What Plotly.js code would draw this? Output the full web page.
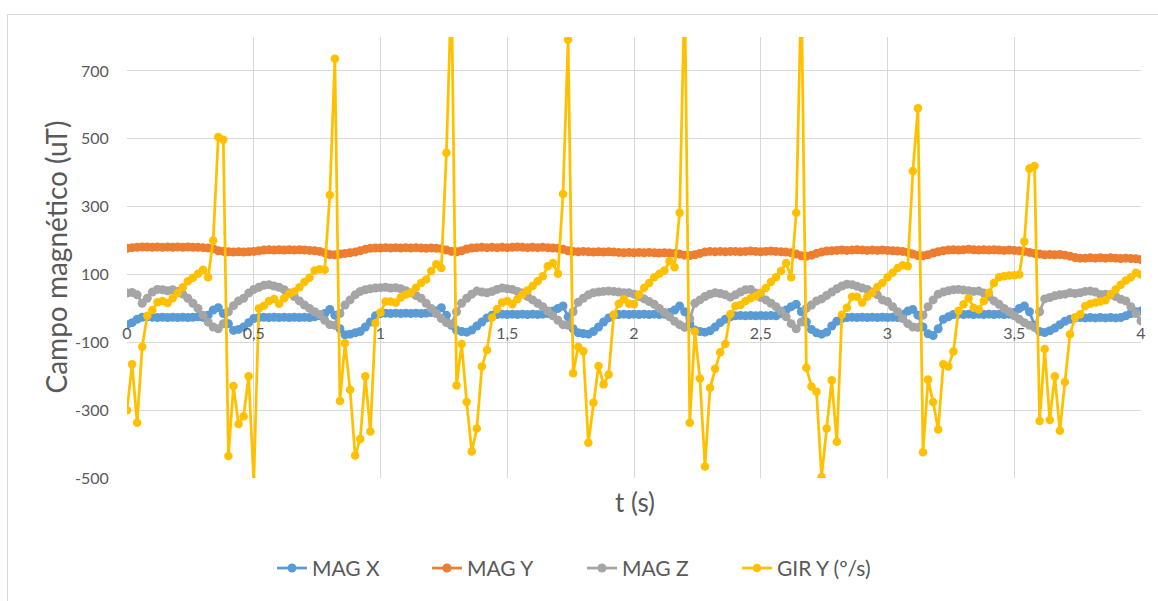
<!DOCTYPE html>
<html>
<head>
<meta charset="utf-8">
<script src="https://cdn.plot.ly/plotly-3.0.1.min.js"></script>
<style>
  html, body { margin: 0; padding: 0; background: #ffffff; overflow: hidden; }
  #frame {
    position: absolute; left: 7px; top: 14px;
    width: 1150px; height: 586px;
    border-left: 1px solid #d9d9d9; border-top: 1px solid #d9d9d9;
  }
  #chart { width: 1150px; height: 586px; }
</style>
</head>
<body>
<div id="frame"><div id="chart"></div></div>
<script>
// Sample times (s)
const t = [
  0.00,0.02,0.04,0.06,0.08,0.10,0.12,0.14,0.16,0.18,
  0.20,0.22,0.24,0.26,0.28,0.30,0.32,0.34,0.36,0.38,
  0.40,0.42,0.44,0.46,0.48,0.50,0.52,0.54,0.56,0.58,
  0.60,0.62,0.64,0.66,0.68,0.70,0.72,0.74,0.76,0.78,
  0.80,0.82,0.84,0.86,0.88,0.90,0.92,0.94,0.96,0.98,
  1.00,1.02,1.04,1.06,1.08,1.10,1.12,1.14,1.16,1.18,
  1.20,1.22,1.24,1.26,1.28,1.30,1.32,1.34,1.36,1.38,
  1.40,1.42,1.44,1.46,1.48,1.50,1.52,1.54,1.56,1.58,
  1.60,1.62,1.64,1.66,1.68,1.70,1.72,1.74,1.76,1.78,
  1.80,1.82,1.84,1.86,1.88,1.90,1.92,1.94,1.96,1.98,
  2.00,2.02,2.04,2.06,2.08,2.10,2.12,2.14,2.16,2.18,
  2.20,2.22,2.24,2.26,2.28,2.30,2.32,2.34,2.36,2.38,
  2.40,2.42,2.44,2.46,2.48,2.50,2.52,2.54,2.56,2.58,
  2.60,2.62,2.64,2.66,2.68,2.70,2.72,2.74,2.76,2.78,
  2.80,2.82,2.84,2.86,2.88,2.90,2.92,2.94,2.96,2.98,
  3.00,3.02,3.04,3.06,3.08,3.10,3.12,3.14,3.16,3.18,
  3.20,3.22,3.24,3.26,3.28,3.30,3.32,3.34,3.36,3.38,
  3.40,3.42,3.44,3.46,3.48,3.50,3.52,3.54,3.56,3.58,
  3.60,3.62,3.64,3.66,3.68,3.70,3.72,3.74,3.76,3.78,
  3.80,3.82,3.84,3.86,3.88,3.90,3.92,3.94,3.96,3.98,
  4.00
];

// Magnetometer X (uT)
const magX = [
  -48,-42,-32,-26,-25,-26,-27,-26,-27,-26,
  -27,-26,-27,-26,-25,-26,-20,-5,2,-15,
  -45,-65,-62,-55,-42,-30,-27,-26,-27,-26,
  -27,-26,-27,-26,-27,-26,-27,-25,-22,-15,
  -3,-20,-60,-78,-76,-72,-68,-55,-40,-22,
  -15,-14,-15,-14,-15,-14,-15,-14,-15,-14,
  -12,-8,2,-20,-50,-64,-68,-70,-64,-52,
  -40,-28,-20,-18,-17,-18,-17,-18,-17,-18,
  -17,-18,-17,-15,-8,0,7,-25,-60,-72,
  -74,-76,-68,-55,-40,-28,-20,-18,-17,-18,
  -17,-18,-17,-18,-17,-18,-17,-12,-5,7,
  -10,-45,-64,-68,-70,-66,-55,-42,-32,-25,
  -22,-21,-22,-21,-22,-21,-22,-21,-22,-15,
  -5,5,12,-10,-40,-62,-72,-76,-70,-52,
  -38,-30,-27,-26,-27,-26,-27,-26,-27,-26,
  -27,-26,-27,-18,-8,-3,-20,-55,-75,-80,
  -60,-32,-25,-18,-17,-18,-17,-18,-17,-18,
  -17,-18,-17,-18,-17,-12,0,7,-10,-50,
  -68,-71,-66,-58,-48,-38,-32,-28,-27,-28,
  -27,-28,-27,-28,-27,-28,-27,-22,-15,-10,
  -8
];

// Magnetometer Y (uT)
const magY = [
  177,179,180,181,181,180,181,180,181,180,
  181,180,181,180,180,179,178,176,170,168,
  167,166,167,166,167,168,170,172,173,172,
  173,172,173,172,173,172,171,170,168,164,
  159,158,160,162,164,166,170,174,177,178,
  178,179,178,179,178,179,178,179,178,177,
  178,177,176,172,168,167,170,175,178,179,
  180,179,180,179,180,179,180,181,180,179,
  180,179,180,179,178,177,174,170,168,167,
  168,167,166,167,166,167,166,165,164,165,
  164,165,164,165,164,163,164,163,162,160,
  157,156,158,162,166,168,167,168,167,168,
  168,167,168,169,168,167,168,169,168,167,
  166,164,160,155,154,157,162,166,169,170,
  171,172,171,172,173,172,171,172,171,172,
  171,170,169,168,165,160,156,155,158,163,
  167,170,172,173,172,173,174,173,172,173,
  172,173,172,171,172,171,170,168,165,162,
  160,158,159,158,159,157,154,150,148,148,
  149,148,149,148,149,148,147,148,147,146,
  144
];

// Magnetometer Z (uT)
const magZ = [
  45,47,40,15,30,48,56,55,52,55,
  50,42,30,15,0,-20,-40,-55,-60,-45,
  -10,8,22,30,45,56,62,68,70,66,
  62,55,45,35,22,10,0,-10,-18,-35,
  -48,-50,-15,10,25,40,50,55,58,60,
  61,62,60,61,58,52,45,38,30,15,
  0,-15,-30,-42,-46,-10,15,30,42,51,
  48,46,50,56,60,58,56,50,45,35,
  25,15,5,-8,-22,-35,-48,-50,-10,18,
  30,40,46,48,50,51,50,48,46,46,
  42,35,28,20,12,0,-12,-25,-38,-48,
  -56,-30,15,25,35,42,46,44,40,33,
  40,48,55,56,45,32,25,15,5,-8,
  -25,-45,-60,-40,0,10,22,28,38,48,
  58,66,71,70,65,60,56,48,40,25,
  20,5,-10,-30,-45,-55,-56,-20,5,25,
  42,48,52,55,56,54,52,50,51,45,
  35,22,12,0,-10,-22,-32,-42,-50,-56,
  -10,28,32,37,40,42,46,44,46,50,
  51,48,41,42,40,35,27,22,5,-15,
  -37
];

// Gyroscope Y (deg/s)
const girY = [
  -300,-165,-337,-113,-22,-5,18,22,16,30,
  45,62,80,90,102,114,92,200,505,497,
  -435,-229,-341,-318,-200,-510,0,8,22,28,
  14,30,43,50,62,78,90,112,115,114,
  334,736,-273,-103,-240,-434,-385,-200,-363,-44,
  -12,20,20,17,32,41,46,61,75,85,
  110,130,119,459,950,-227,-105,-276,-422,-354,
  -171,-123,-27,-2,17,22,12,27,41,53,
  66,80,95,124,134,102,337,792,-191,-113,
  -126,-396,-278,-170,-224,-195,-19,14,27,14,
  12,41,61,75,92,102,112,139,121,282,
  950,-337,-68,-207,-466,-234,-178,-129,-105,-17,
  7,10,22,30,36,46,60,78,92,110,
  134,92,282,950,-175,-230,-246,-497,-354,-212,
  -393,-19,2,34,34,17,34,46,63,75,
  92,105,119,127,124,405,590,-424,-210,-276,
  -357,-165,-171,-127,-7,12,30,2,-3,22,
  46,75,92,95,97,98,100,197,412,420,
  -332,-120,-329,-200,-361,-217,-76,-27,-17,7,
  14,17,20,24,41,56,70,82,92,105,
  100
];

const seriesNames = ['MAG X', 'MAG Y', 'MAG Z', 'GIR Y (º/s)'];
const seriesValues = [magX, magY, magZ, girY];
const seriesColors = ['#5B9BD5', '#ED7D31', '#A5A5A5', '#FFC000'];
const markerSizes = [9, 9, 9, 8.5];

// Value-axis ticks, written with a plain hyphen for negatives
const yTickVals = [-500, -300, -100, 100, 300, 500, 700];
const yTickText = ['-500', '-300', '-100', '100', '300', '500', '700'];

const yTitle = 'Campo magnético (uT)';
const xTitle = 't (s)';

const textColor = '#595959';
const gridColor = '#d9d9d9';
const fontFamily = 'Lato, "Open Sans", sans-serif';

const traces = seriesValues.map((vals, i) => ({
  type: 'scatter',
  mode: 'lines+markers',
  name: seriesNames[i],
  x: t,
  y: vals,
  line: { color: seriesColors[i], width: 2.75 },
  marker: { color: seriesColors[i], size: markerSizes[i], symbol: 'circle' },
  hoverinfo: 'skip'
}));

const yMin = -500, yMax = 800;

const layout = {
  width: 1150,
  height: 586,
  margin: { l: 119, r: 17, t: 22, b: 120 },
  paper_bgcolor: '#ffffff',
  plot_bgcolor: '#ffffff',
  separators: ',.',
  font: { family: fontFamily, color: textColor },
  showlegend: true,
  xaxis: {
    range: [0, 4],
    tick0: 0,
    dtick: 0.5,
    showgrid: true,
    gridcolor: gridColor,
    gridwidth: 1,
    zeroline: false,
    showline: false,
    anchor: 'free',
    position: (0 - yMin) / (yMax - yMin),
    ticks: 'outside',
    ticklen: 10,
    tickcolor: 'rgba(0,0,0,0)',
    tickfont: { family: fontFamily, size: 16, color: textColor }
  },
  yaxis: {
    range: [yMin, yMax],
    tickmode: 'array',
    tickvals: yTickVals,
    ticktext: yTickText,
    showgrid: true,
    gridcolor: gridColor,
    gridwidth: 1,
    zeroline: false,
    showline: false,
    ticks: 'outside',
    ticklen: 14,
    tickcolor: 'rgba(0,0,0,0)',
    tickfont: { family: fontFamily, size: 16, color: textColor }
  },
  legend: {
    orientation: 'h',
    x: 0.4487,
    xanchor: 'center',
    y: -0.205,
    yanchor: 'middle',
    entrywidth: 110,
    entrywidthmode: 'pixels',
    font: { family: fontFamily, size: 21, color: textColor },
    bgcolor: 'rgba(0,0,0,0)'
  },
  annotations: [
    {
      text: yTitle, xref: 'paper', yref: 'paper',
      x: -0.071, y: 0.5, xanchor: 'center', yanchor: 'middle',
      textangle: -90, showarrow: false,
      font: { family: fontFamily, size: 28, color: textColor }
    },
    {
      text: xTitle, xref: 'paper', yref: 'paper',
      x: 0.501, y: -0.054, xanchor: 'center', yanchor: 'middle',
      showarrow: false,
      font: { family: fontFamily, size: 26, color: textColor }
    }
  ]
};

Plotly.newPlot('chart', traces, layout, { displayModeBar: false, staticPlot: true });
</script>
</body>
</html>
